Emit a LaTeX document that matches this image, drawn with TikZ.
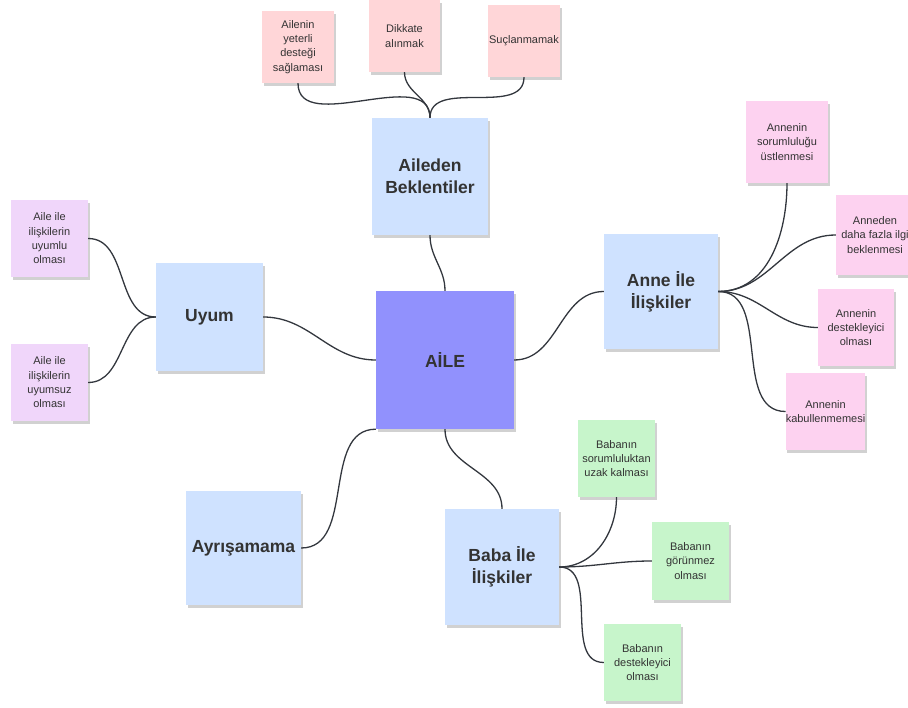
\documentclass[tikz,border=0pt]{standalone}
\usepackage{fontspec}
\setmainfont{Liberation Sans}
\usetikzlibrary{shadows}
\definecolor{txt}{RGB}{51,51,51}
\definecolor{central}{RGB}{145,145,253}
\definecolor{bluebox}{RGB}{207,226,255}
\definecolor{salmon}{RGB}{255,214,216}
\definecolor{rose}{RGB}{253,210,240}
\definecolor{lavender}{RGB}{240,214,250}
\definecolor{mint}{RGB}{199,245,203}
\definecolor{wire}{RGB}{51,55,62}
\tikzset{
  note/.style={inner sep=0pt, align=center, text=txt,
    drop shadow={shadow xshift=1.5pt, shadow yshift=-3pt, opacity=0.18, fill=black}},
  bignote/.style={note, font=\fontsize{17.5}{22}\selectfont\bfseries},
  smallnote/.style={note, font=\fontsize{11}{14.3}\selectfont,
    minimum width=77pt, minimum height=77pt},
  wirestyle/.style={draw=wire, line width=1.3pt}
}
\begin{document}
\begin{tikzpicture}[x=1pt,y=-1pt]
\useasboundingbox (0,0) rectangle (908,708);
% main nodes
\node[bignote, fill=central, minimum width=138pt, minimum height=138pt] (aile) at (445,360) {AİLE};
\node[bignote, fill=bluebox, minimum width=116pt, minimum height=117pt] (bek) at (430,176.5) {Aileden\\Beklentiler};
\node[bignote, fill=bluebox, minimum width=107pt, minimum height=108pt] (uyum) at (209.5,317) {Uyum};
\node[bignote, fill=bluebox, minimum width=114pt, minimum height=115pt] (anne) at (661,291.5) {Anne İle\\İlişkiler};
\node[bignote, fill=bluebox, minimum width=114pt, minimum height=116pt] (baba) at (502,567) {Baba İle\\İlişkiler};
\node[bignote, fill=bluebox, minimum width=115pt, minimum height=114pt] (ayr) at (243.5,548) {Ayrışamama};
% top (salmon)
\node[smallnote, fill=salmon, minimum width=72pt, minimum height=72pt] (p1) at (298,47) {Ailenin\\yeterli\\desteği\\sağlaması};
\node[smallnote, fill=salmon, minimum width=71pt, minimum height=72pt] (p2) at (404.5,36) {Dikkate\\alınmak};
\node[smallnote, fill=salmon, minimum width=72pt, minimum height=72pt] (p3) at (524,41) {Suçlanmamak};
% anne (rose)
\node[smallnote, fill=rose, minimum width=82pt, minimum height=82pt] (a1) at (787,142) {Annenin\\sorumluluğu\\üstlenmesi};
\node[smallnote, fill=rose, minimum width=78pt, minimum height=80pt] (a2) at (875,235) {Anneden\\daha fazla ilgi\\beklenmesi};
\node[smallnote, fill=rose, minimum width=76pt, minimum height=77pt] (a3) at (856,327.5) {Annenin\\destekleyici\\olması};
\node[smallnote, fill=rose, minimum width=77pt, minimum height=77pt] (a4) at (825.5,411.5) {Annenin\\kabullenmemesi};
% uyum (lavender)
\node[smallnote, fill=lavender] (u1) at (49.5,238.5) {Aile ile\\ilişkilerin\\uyumlu\\olması};
\node[smallnote, fill=lavender] (u2) at (49.5,382.5) {Aile ile\\ilişkilerin\\uyumsuz\\olması};
% baba (mint)
\node[smallnote, fill=mint] (b1) at (616.5,458.5) {Babanın\\sorumluluktan\\uzak kalması};
\node[smallnote, fill=mint, minimum height=78pt] (b2) at (690.5,561) {Babanın\\görünmez\\olması};
\node[smallnote, fill=mint] (b3) at (642.5,662.5) {Babanın\\destekleyici\\olması};
% connectors from centre
\draw[wirestyle] (aile.north) to[out=90,in=-90] (bek.south);
\draw[wirestyle] (aile.west) to[out=180,in=0] (uyum.east);
\draw[wirestyle] (aile.east) to[out=0,in=180] (anne.west);
\draw[wirestyle] (aile.south) to[out=-90,in=90] (baba.north);
\draw[wirestyle] (aile.south west) to[out=180,in=0] (ayr.east);
% beklentiler
\draw[wirestyle] (bek.north) to[out=90,in=-90] (p1.south);
\draw[wirestyle] (bek.north) to[out=90,in=-90] (p2.south);
\draw[wirestyle] (bek.north) to[out=90,in=-90] (p3.south);
% uyum
\draw[wirestyle] (uyum.west) to[out=180,in=0] (u1.east);
\draw[wirestyle] (uyum.west) to[out=180,in=0] (u2.east);
% anne
\draw[wirestyle] (anne.east) to[out=0,in=-90] (a1.south);
\draw[wirestyle] (anne.east) to[out=0,in=180] (a2.west);
\draw[wirestyle] (anne.east) to[out=0,in=180] (a3.west);
\draw[wirestyle] (anne.east) to[out=0,in=180] (a4.west);
% baba
\draw[wirestyle] (baba.east) to[out=0,in=-90] (b1.south);
\draw[wirestyle] (baba.east) to[out=0,in=180] (b2.west);
\draw[wirestyle] (baba.east) to[out=0,in=180] (b3.west);
\end{tikzpicture}
\end{document}
